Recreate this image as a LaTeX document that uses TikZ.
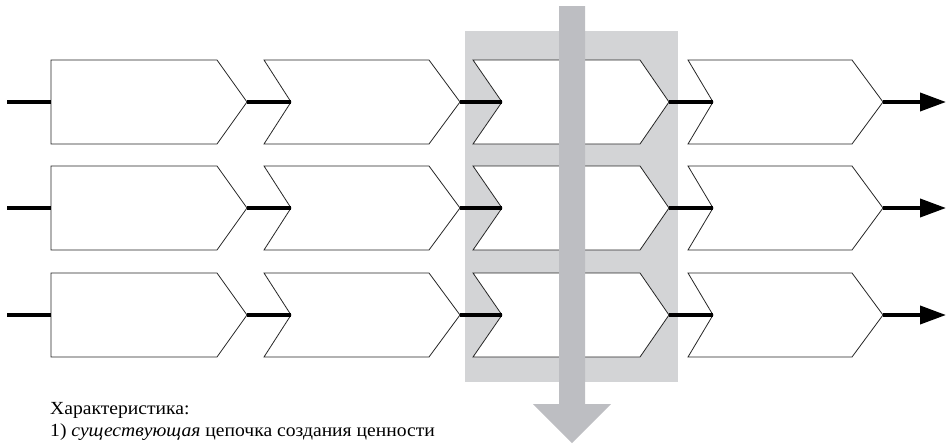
\documentclass[tikz,border=0pt]{standalone}
\usepackage{fontspec}
\setmainfont{Liberation Serif}
\newfontfamily\capfont[FakeStretch=1.06]{Liberation Serif}
\usetikzlibrary{arrows.meta}
\definecolor{boxgrey}{RGB}{211,212,214}
\definecolor{arrowgrey}{RGB}{189,190,194}
\begin{document}
\begin{tikzpicture}[x=1pt,y=-1pt,
  chev/.style={draw=black!85, line width=0.8pt, fill=white, line join=miter},
  link/.style={line width=3.8pt, draw=black},
  outarrow/.style={line width=3.8pt, draw=black, -{Triangle[length=26pt,width=18pt]}},
  captext/.style={anchor=base west, inner sep=0pt, font=\capfont\fontsize{18.5}{22}\selectfont}]
\useasboundingbox (0,0) rectangle (946,445);
\fill[boxgrey] (465,31) rectangle (678,382);
\foreach \r/\yt in {1/60,2/166,3/273}{
  \pgfmathsetmacro\yb{\yt+84}
  \pgfmathsetmacro\ym{\yt+42}
  \draw[chev] (51,\yt) -- (217,\yt) -- (247,\ym) -- (217,\yb) -- (51,\yb) -- cycle;
  \coordinate (n\r-1) at (51,\ym);
  \coordinate (t\r-1) at (247,\ym);
  \coordinate (s\r) at (7,\ym);
  \foreach \c/\nl/\np/\tr/\tp in {2/264/291/429/460,3/473/502/640/669,4/688/713/852/883}{
    \draw[chev] (\nl,\yt) -- (\tr,\yt) -- (\tp,\ym) -- (\tr,\yb) -- (\nl,\yb) -- (\np,\ym) -- cycle;
    \coordinate (n\r-\c) at (\np,\ym);
    \coordinate (t\r-\c) at (\tp,\ym);
  }
  \coordinate (e\r) at (946,\ym);
  \draw[link] (s\r) -- (n\r-1);
  \draw[link] (t\r-1) -- (n\r-2);
  \draw[link] (t\r-2) -- (n\r-3);
  \draw[link] (t\r-3) -- (n\r-4);
  \draw[outarrow] (t\r-4) -- (e\r);
}
\fill[arrowgrey] (559,6) -- (585,6) -- (585,404) -- (611,404) -- (572,443) -- (533,404) -- (559,404) -- cycle;
\node[captext] (cap1) at (50,414) {Характеристика:};
\node[captext] (cap2) at (50,436) {1) \textit{существующая} цепочка создания ценности};
\end{tikzpicture}
\end{document}
